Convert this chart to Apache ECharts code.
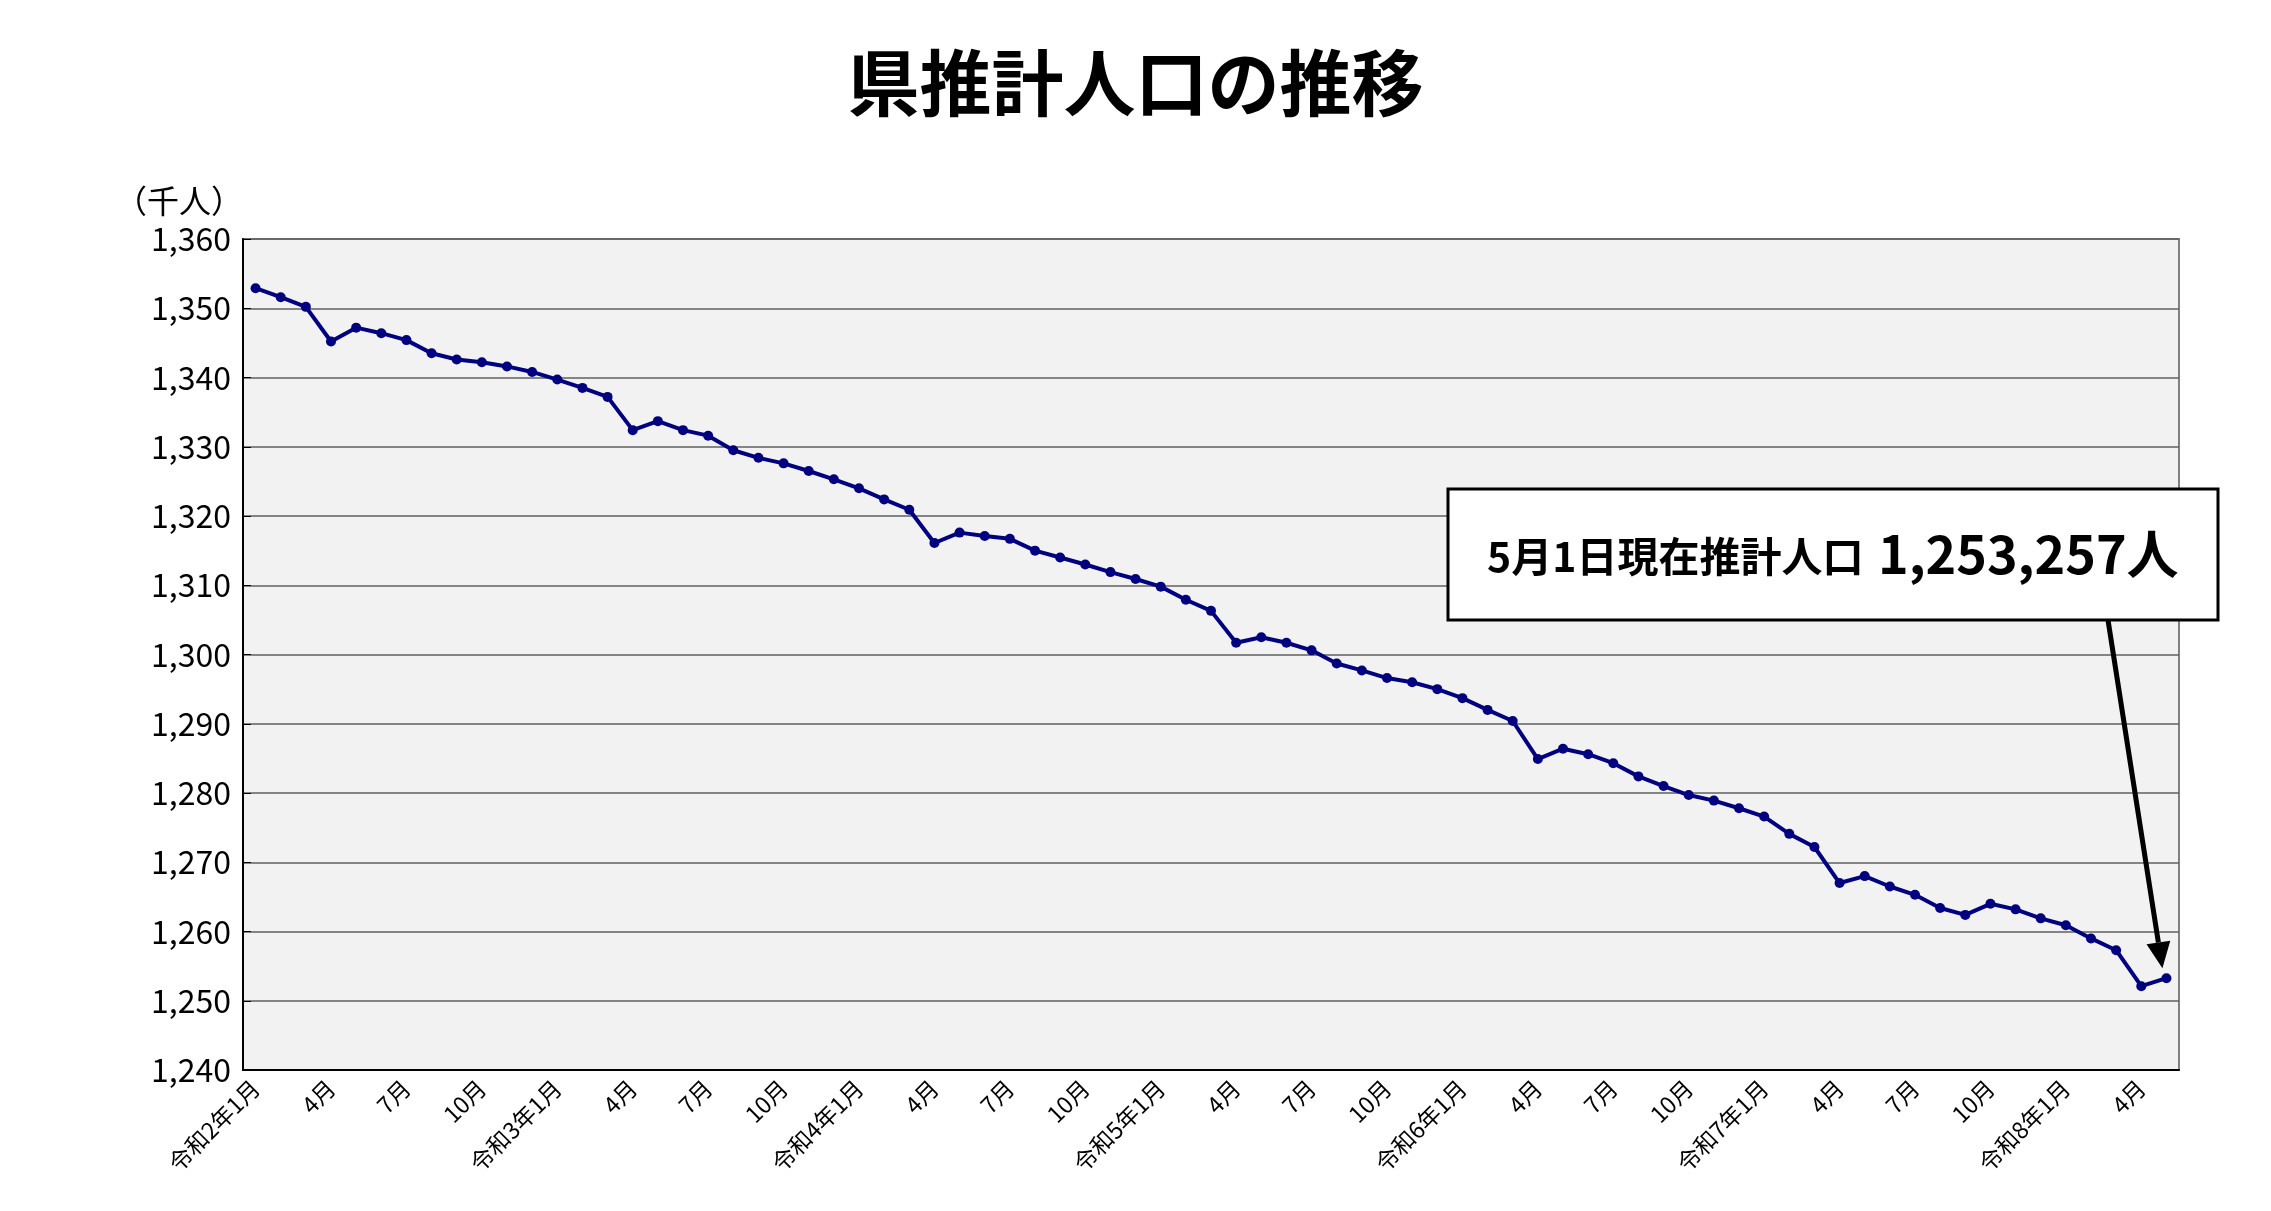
<!DOCTYPE html>
<html><head><meta charset="utf-8">
<script src="https://cdn.jsdelivr.net/npm/echarts@6/dist/echarts.min.js"></script>
<style>html,body{margin:0;padding:0;background:#fff}#c{width:2271px;height:1211px}</style>
</head><body><div id="c"></div>
<script>
const eras = [2,3,4,5,6,7,8];
const monthsCount = 77;
const populationThousands = [
1352.9,1351.6,1350.2,1345.2,1347.2,1346.4,1345.4,1343.5,1342.6,1342.2,1341.6,1340.8,
1339.7,1338.5,1337.2,1332.4,1333.7,1332.4,1331.6,1329.5,1328.4,1327.6,1326.5,1325.3,
1324.0,1322.4,1320.9,1316.1,1317.6,1317.1,1316.7,1315.0,1314.0,1313.0,1311.9,1310.9,
1309.8,1307.9,1306.3,1301.7,1302.5,1301.7,1300.6,1298.7,1297.7,1296.6,1296.0,1295.0,
1293.7,1292.0,1290.4,1284.9,1286.4,1285.6,1284.3,1282.4,1281.0,1279.7,1278.9,1277.8,
1276.6,1274.1,1272.2,1267.0,1268.0,1266.5,1265.3,1263.4,1262.4,1264.0,1263.2,1261.9,
1260.9,1259.0,1257.3,1252.1,1253.257];
const categories = [];
for (let i = 0; i < monthsCount; i++) {
  const m = i % 12 + 1, y = eras[Math.floor(i / 12)];
  categories.push(m === 1 ? '令和' + y + '年1月' : m + '月');
}
const boxLabel = '5月1日現在推計人口';
const boxValue = '1,253,257人';
const FONT = '"Noto Sans CJK JP","Noto Sans",sans-serif';
const chart = echarts.init(document.getElementById('c'));
chart.setOption({
  animation:false,
  title:{text:'県推計人口の推移',left:'center',top:42,textStyle:{fontFamily:FONT,fontSize:72,fontWeight:'bold',color:'#000'}},
  grid:{left:243,right:92,top:239,bottom:141,show:true,backgroundColor:'#f2f2f2',borderColor:'#808080',borderWidth:2},
  xAxis:{type:'category',data:categories,boundaryGap:true,
    axisLine:{lineStyle:{color:'#000',width:2}},axisTick:{show:false},
    axisLabel:{interval:2,rotate:45,fontFamily:FONT,fontSize:23,color:'#000',margin:14}},
  yAxis:{type:'value',min:1240,max:1360,interval:10,name:'（千人）',nameGap:22,
    nameTextStyle:{fontFamily:FONT,fontSize:32,color:'#000',align:'right'},
    axisLine:{show:true,lineStyle:{color:'#000',width:2}},axisTick:{show:true,inside:true,length:8,lineStyle:{color:'#000'}},
    splitLine:{lineStyle:{color:'#606060',width:1.5}},
    axisLabel:{fontFamily:FONT,fontSize:32,color:'#000',margin:12,formatter:v=>v.toLocaleString('en-US')}},
  series:[{type:'line',data:populationThousands,symbol:'circle',symbolSize:10,
    lineStyle:{color:'#000080',width:4},itemStyle:{color:'#000080'}}]
});
const last = chart.convertToPixel({seriesIndex:0},[monthsCount-1,populationThousands[monthsCount-1]]);
const sx = 2108, sy = 620, ex = last[0]-4, ey = last[1]-10;
const ang = Math.atan2(ey-sy, ex-sx), L = 26, W = 12;
const bx = ex - L*Math.cos(ang), by = ey - L*Math.sin(ang);
chart.setOption({graphic:[
  {type:'rect',shape:{x:1448,y:489,width:770,height:131},style:{fill:'#fff',stroke:'#000',lineWidth:3},z:100},
  {type:'text',x:1487,y:556,style:{text:boxLabel,font:'bold 41px '+FONT,fill:'#000',textVerticalAlign:'middle'},z:101},
  {type:'text',x:1878,y:554,style:{text:boxValue,font:'bold 52px '+FONT,fill:'#000',textVerticalAlign:'middle'},z:101},
  {type:'line',shape:{x1:sx,y1:sy,x2:bx,y2:by},style:{stroke:'#000',lineWidth:5},z:100},
  {type:'polygon',shape:{points:[[ex,ey],[bx+W*Math.sin(ang),by-W*Math.cos(ang)],[bx-W*Math.sin(ang),by+W*Math.cos(ang)]]},style:{fill:'#000'},z:100}
]});
</script></body></html>
